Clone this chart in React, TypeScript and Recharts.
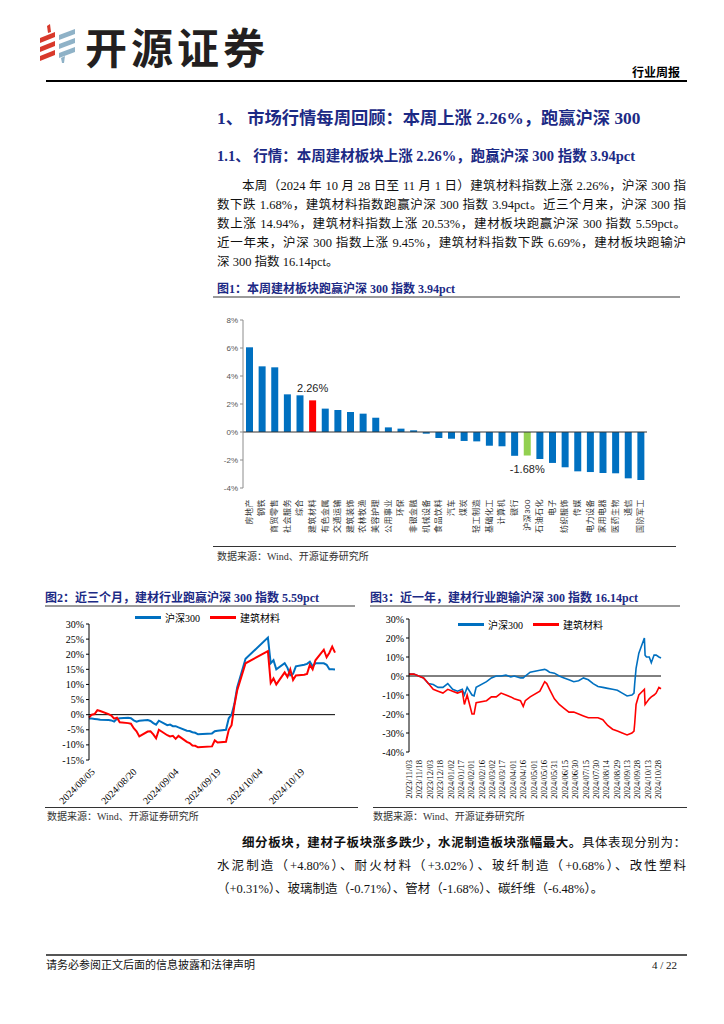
import React from "react";
import { BarChart, Bar, Cell, LineChart, Line, XAxis, YAxis, ReferenceLine, LabelList, Legend } from "recharts";

// 图1：申万一级行业本周涨跌幅
const industries = [
  "房地产", "钢铁", "商贸零售", "社会服务", "综合", "建筑材料", "有色金属", "交通运输",
  "建筑装饰", "农林牧渔", "美容护理", "公用事业", "环保", "非银金融", "机械设备", "食品饮料",
  "汽车", "煤炭", "轻工制造", "基础化工", "计算机", "银行", "沪深300", "石油石化",
  "电子", "纺织服饰", "传媒", "电力设备", "家用电器", "医药生物", "通信", "国防军工",
];
const weeklyChange = [
  6.05, 4.69, 4.62, 2.69, 2.62, 2.26, 1.67, 1.57,
  1.43, 1.31, 1.02, 0.33, 0.24, 0.12, -0.12, -0.43,
  -0.48, -0.64, -0.67, -0.98, -1.02, -1.7, -1.68, -1.93,
  -2.21, -2.52, -2.81, -2.86, -2.93, -2.95, -3.31, -3.43,
];
const barTicks = [-4, -2, 0, 2, 4, 6, 8];

// 图2：近三个月
const threeMonthDates = [
  "2024-08-05", "2024-08-06", "2024-08-07", "2024-08-08", "2024-08-09", "2024-08-12", "2024-08-13", "2024-08-14",
  "2024-08-15", "2024-08-16", "2024-08-19", "2024-08-20", "2024-08-21", "2024-08-22", "2024-08-23", "2024-08-26",
  "2024-08-27", "2024-08-28", "2024-08-29", "2024-08-30", "2024-09-02", "2024-09-03", "2024-09-04", "2024-09-05",
  "2024-09-06", "2024-09-09", "2024-09-10", "2024-09-11", "2024-09-12", "2024-09-13", "2024-09-18", "2024-09-19",
  "2024-09-20", "2024-09-23", "2024-09-24", "2024-09-25", "2024-09-26", "2024-09-27", "2024-09-30", "2024-10-08",
  "2024-10-09", "2024-10-10", "2024-10-11", "2024-10-14", "2024-10-15", "2024-10-16", "2024-10-17", "2024-10-18",
  "2024-10-21", "2024-10-22", "2024-10-23", "2024-10-24", "2024-10-25", "2024-10-28", "2024-10-29", "2024-10-30",
  "2024-10-31", "2024-11-01",
];
const threeMonthCsi300 = [
  -1.3, -1.3, -1.4, -1.5, -1.7, -1.8, -1.9, -2.3, -1.4, -1.2, -1.0, -1.2, -1.9, -2.3, -2.0, -1.8, -2.1, -2.8, -3.3, -2.0,
  -3.5, -3.3, -3.8, -3.8, -4.2, -5.3, -5.4, -5.8, -6.0, -6.5, -6.2, -5.5, -5.3, -5.0, -1.2, 0.0, 3.5, 9.0, 18.5,
  25.5, 17.0, 18.0, 15.0, 17.0, 15.5, 13.0, 13.5, 16.0, 16.5, 16.8, 17.5, 16.0, 17.0, 17.0, 16.5, 15.0, 15.0,
  14.94,
];
const threeMonthBuilding = [
  -1.0, 0.0, 0.2, 1.5, 1.2, 0.2, -0.3, -1.3, -1.0, -2.5, -2.8, -3.0, -4.5, -5.5, -7.2, -5.6, -5.5, -6.5, -7.8, -5.0,
  -6.8, -7.2, -7.0, -8.0, -7.0, -9.0, -9.4, -10.2, -10.3, -10.8, -10.5, -8.5, -9.2, -9.0, -5.0, -3.5, 3.0, 8.0, 17.0,
  21.0, 10.5, 12.0, 10.0, 14.0, 12.5, 15.0, 11.5, 13.0, 13.2, 13.5, 16.5, 15.0, 18.0, 21.5, 19.0, 20.5, 22.5,
  20.53,
];
const threeMonthTicks = [-15, -10, -5, 0, 5, 10, 15, 20, 25, 30];
const threeMonthDayTicks = [0, 15, 30, 45, 60, 75];

// 图3：近一年
const yearDates = [
  "2023-11-03", "2023-11-10", "2023-11-17", "2023-11-24", "2023-12-01", "2023-12-08", "2023-12-15", "2023-12-22",
  "2023-12-29", "2024-01-05", "2024-01-12", "2024-01-19", "2024-01-22", "2024-01-26", "2024-02-02", "2024-02-05",
  "2024-02-08", "2024-02-23", "2024-03-01", "2024-03-08", "2024-03-15", "2024-03-22", "2024-03-29", "2024-04-03",
  "2024-04-12", "2024-04-16", "2024-04-19", "2024-04-26", "2024-05-10", "2024-05-17", "2024-05-20", "2024-05-24",
  "2024-05-31", "2024-06-07", "2024-06-14", "2024-06-21", "2024-06-28", "2024-07-05", "2024-07-12", "2024-07-19",
  "2024-07-26", "2024-08-02", "2024-08-09", "2024-08-16", "2024-08-23", "2024-08-30", "2024-09-06", "2024-09-13",
  "2024-09-20", "2024-09-23", "2024-09-24", "2024-09-26", "2024-09-30", "2024-10-08", "2024-10-09", "2024-10-11",
  "2024-10-15", "2024-10-18", "2024-10-22", "2024-10-25", "2024-10-29", "2024-11-01",
];
const yearCsi300 = [
  1, 1, 0, -1, -4, -4.5, -6, -6, -4, -7, -8, -7, -10, -6, -10, -10.5,
  -6, -3, -1, 0, 0, 0.5, -0.5, 0, -1, -1, 0, 2, 3, 3.5, 3, 2,
  1.5, 0, -1, -2, -3, -2.5, -1, -2, -4, -5.5, -6, -6.5, -7, -7.5, -9, -10.5,
  -10, -9, -4, 4, 12, 20, 11, 10, 10, 7, 11, 11, 10, 9.45,
];
const yearBuilding = [
  1, 1, 0, -1, -4, -7, -8, -9, -7, -8, -9, -8, -15, -10, -20, -20,
  -14, -13, -11, -11, -9, -10, -11, -12, -13, -16, -13, -11, -8, -3, -4, -7,
  -12, -15, -17, -19, -19, -20, -21, -22, -22, -22, -23, -26, -28, -29, -30, -31,
  -30, -29, -25, -15, -10, -7, -15, -14, -12, -11, -10, -9, -6, -6.69,
];
const yearTicks = [-40, -30, -20, -10, 0, 10, 20, 30];
const yearDayTicks = Array.from({ length: 25 }, (_, i) => i * 15);

const seriesOrder = ["沪深300", "建筑材料"];

const DAY = 86400000;
const dayIndex = (d: string, base: string) => Math.round((Date.parse(d) - Date.parse(base)) / DAY);
const fmtDay = (base: string, n: number) => {
  const t = new Date(Date.parse(base) + n * DAY);
  return `${t.getUTCFullYear()}/${String(t.getUTCMonth() + 1).padStart(2, "0")}/${String(t.getUTCDate()).padStart(2, "0")}`;
};

const barData = industries.map((name, i) => ({ name, value: weeklyChange[i] }));
const threeMonthData = threeMonthDates.map((d, i) => ({
  day: dayIndex(d, threeMonthDates[0]),
  csi: threeMonthCsi300[i],
  build: threeMonthBuilding[i],
}));
const yearData = yearDates.map((d, i) => ({
  day: dayIndex(d, yearDates[0]),
  csi: yearCsi300[i],
  build: yearBuilding[i],
}));

const NAVY = "#1c2a85";
const SERIF = "'Liberation Serif', 'Noto Sans CJK SC', serif";
const SANS = "'Liberation Sans', 'Noto Sans CJK SC', sans-serif";

const barColor = (name: string) => (name === "建筑材料" ? "#ff0000" : name === "沪深300" ? "#92d050" : "#0070c0");

const BarValueLabel = (props: any) => {
  const { x, y, width, height, value, index } = props;
  const name = industries[index];
  if (name !== "建筑材料" && name !== "沪深300") return null;
  const top = Math.min(y, y + height);
  const bottom = Math.max(y, y + height);
  const cx = x + width / 2;
  return (
    <text x={cx} y={value >= 0 ? top - 8 : bottom + 17} textAnchor="middle" fontSize={11} fill="#222" fontFamily={SANS}>
      {value.toFixed(2)}%
    </text>
  );
};

const IndustryTick = ({ x, y, payload }: any) => (
  <text
    x={x}
    y={y + 3}
    transform={`rotate(-90, ${x}, ${y + 3})`}
    textAnchor="end"
    dominantBaseline="central"
    fontSize={8}
    letterSpacing={0.5}
    fill="#333"
    fontFamily={SANS}
  >
    {payload.value}
  </text>
);

const ThreeMonthTick = ({ x, y, payload }: any) => (
  <text
    x={x + 4}
    y={y + 2}
    transform={`rotate(-45, ${x + 4}, ${y + 2})`}
    textAnchor="end"
    dominantBaseline="central"
    fontSize={10}
    fill="#000"
    fontFamily={SERIF}
  >
    {fmtDay(threeMonthDates[0], payload.value)}
  </text>
);

const YearTick = ({ x, y, payload }: any) => (
  <text
    x={x}
    y={y}
    transform={`rotate(-90, ${x}, ${y})`}
    textAnchor="end"
    dominantBaseline="central"
    fontSize={8.5}
    fill="#000"
    fontFamily={SERIF}
  >
    {fmtDay(yearDates[0], payload.value)}
  </text>
);

const LineLegend = ({ payload }: any) => {
  const items = [...(payload || [])].sort((a: any, b: any) => seriesOrder.indexOf(a.value) - seriesOrder.indexOf(b.value));
  return (
    <div style={{ display: "flex", alignItems: "center", fontSize: 10, fontFamily: SERIF, color: "#000" }}>
      {items.map((p: any) => (
        <span key={p.value} style={{ display: "flex", alignItems: "center", marginRight: 10 }}>
          <span style={{ width: 26, height: 3, background: p.color, marginRight: 4, display: "inline-block" }} />
          {p.value}
        </span>
      ))}
    </div>
  );
};

const T = ({ x, y, size, children, style }: any) => (
  <div style={{ position: "absolute", left: x, top: y - size * 0.75, fontSize: size, lineHeight: `${size * 1.5}px`, whiteSpace: "nowrap", ...style }}>
    {children}
  </div>
);

const JLine = ({ x, y, w, indent, children, bold }: any) => (
  <div
    style={{
      position: "absolute",
      left: x,
      top: y - 9,
      width: w,
      paddingLeft: indent || 0,
      boxSizing: "border-box",
      fontSize: 12.5,
      lineHeight: "18px",
      height: 18,
      textAlign: "justify",
      textAlignLast: "justify",
      fontFamily: SERIF,
      color: "#111",
      fontWeight: bold ? 700 : 400,
    }}
  >
    {children}
  </div>
);

const HLine = ({ x1, x2, y, h, color }: any) => (
  <div style={{ position: "absolute", left: x1, top: y, width: x2 - x1, height: h, background: color }} />
);

function Logo() {
  const red = "#d8392b";
  const blue = "#8fb2c7";
  return (
    <svg width={40} height={40} style={{ position: "absolute", left: 38, top: 24 }}>
      <polygon points="9,2 12,0 13,8 10,9" fill={red} />
      <polygon points="2,14 17,8 17,13 2,19" fill={red} />
      <polygon points="2,23 17,17 17,22 2,28" fill={red} />
      <polygon points="2,32 17,26 17,31 2,37" fill={red} />
      <polygon points="21,11 37,5 37,10 21,16" fill={blue} />
      <polygon points="21,20 37,14 37,19 21,25" fill={blue} />
      <polygon points="21,29 37,23 37,28 21,34" fill={blue} />
      <polygon points="23,34 27,32 26,39 24,39" fill={blue} />
    </svg>
  );
}

export default function App() {
  return (
    <div style={{ position: "absolute", left: 0, top: 0, width: 724, height: 1024, background: "#fff", overflow: "hidden", fontFamily: SERIF }}>
      {/* header */}
      <Logo />
      <T x={85} y={45} size={42} style={{ fontFamily: "'Noto Sans CJK SC', sans-serif", fontWeight: 700, color: "#231f20", letterSpacing: 4 }}>
        开源证券
      </T>
      <T x={632} y={73} size={12} style={{ fontWeight: 700, color: "#000" }}>行业周报</T>
      <HLine x1={46} x2={687} y={80} h={1.5} color="#000" />

      {/* headings */}
      <T x={217} y={119} size={17.3} style={{ fontWeight: 700, color: NAVY }}>
        1、 市场行情每周回顾：本周上涨 2.26%，跑赢沪深 300
      </T>
      <T x={217} y={157} size={14.5} style={{ fontWeight: 700, color: NAVY }}>
        1.1、 行情：本周建材板块上涨 2.26%，跑赢沪深 300 指数 3.94pct
      </T>

      <JLine x={217} y={186} w={469} indent={25}>本周（2024 年 10 月 28 日至 11 月 1 日）建筑材料指数上涨 2.26%，沪深 300 指</JLine>
      <JLine x={217} y={205} w={469}>数下跌 1.68%，建筑材料指数跑赢沪深 300 指数 3.94pct。近三个月来，沪深 300 指</JLine>
      <JLine x={217} y={224} w={469}>数上涨 14.94%，建筑材料指数上涨 20.53%，建材板块跑赢沪深 300 指数 5.59pct。</JLine>
      <JLine x={217} y={243} w={469}>近一年来，沪深 300 指数上涨 9.45%，建筑材料指数下跌 6.69%，建材板块跑输沪</JLine>
      <T x={217} y={262} size={12.5} style={{ color: "#111" }}>深 300 指数 16.14pct。</T>

      {/* figure 1 */}
      <T x={217} y={289} size={12} style={{ fontWeight: 700, color: NAVY }}>图1：本周建材板块跑赢沪深 300 指数 3.94pct</T>
      <HLine x1={213} x2={680} y={296} h={1.5} color="#9a9a9a" />
      <div style={{ position: "absolute", left: 213, top: 305 }}>
        <BarChart width={470} height={240} data={barData} margin={{ top: 15, right: 36, bottom: 2, left: 0 }} barCategoryGap="45%">
          <XAxis dataKey="name" interval={0} axisLine={false} tickLine={false} height={55} tick={<IndustryTick />} />
          <YAxis
            domain={[-4, 8]}
            ticks={barTicks}
            interval={0}
            width={30}
            tickSize={3}
            stroke="#8c8c8c"
            tick={{ fontSize: 8, fill: "#555", fontFamily: SANS }}
            tickFormatter={(v: number) => `${v}%`}
          />
          <ReferenceLine y={0} stroke="#333" />
          <Bar dataKey="value" isAnimationActive={false} barSize={7}>
            {barData.map((d) => (
              <Cell key={d.name} fill={barColor(d.name)} />
            ))}
            <LabelList dataKey="value" content={<BarValueLabel />} />
          </Bar>
        </BarChart>
      </div>
      <HLine x1={213} x2={676} y={546} h={1} color="#333" />
      <T x={217} y={556} size={10} style={{ color: "#333" }}>数据来源：Wind、开源证券研究所</T>

      {/* figure 2 */}
      <T x={45} y={598} size={12} style={{ fontWeight: 700, color: NAVY }}>图2：近三个月，建材行业跑赢沪深 300 指数 5.59pct</T>
      <HLine x1={45} x2={355} y={605} h={1.5} color="#9a9a9a" />
      <div style={{ position: "absolute", left: 45, top: 608 }}>
        <LineChart width={315} height={198} data={threeMonthData} margin={{ top: 16, right: 25, bottom: 2, left: 0 }}>
          <XAxis
            dataKey="day"
            type="number"
            domain={[0, 88]}
            ticks={threeMonthDayTicks}
            interval={0}
            axisLine={false}
            tickLine={false}
            height={44}
            tick={<ThreeMonthTick />}
          />
          <YAxis
            domain={[-15, 30]}
            ticks={threeMonthTicks}
            interval={0}
            width={44}
            tickSize={3}
            stroke="#000"
            tick={{ fontSize: 10, fill: "#000", fontFamily: SERIF }}
            tickFormatter={(v: number) => `${v}%`}
          />
          <ReferenceLine y={0} stroke="#000" />
          <Legend
            verticalAlign="middle"
            align="center"
            layout="horizontal"
            wrapperStyle={{ top: 2, left: 90, width: 220 }}
            content={<LineLegend />}
          />
          <Line dataKey="csi" name="沪深300" stroke="#0070c0" strokeWidth={2} dot={false} isAnimationActive={false} />
          <Line dataKey="build" name="建筑材料" stroke="#ff0000" strokeWidth={2} dot={false} isAnimationActive={false} />
        </LineChart>
      </div>
      <HLine x1={45} x2={358} y={807} h={1} color="#333" />
      <T x={47} y={816} size={10} style={{ color: "#333" }}>数据来源：Wind、开源证券研究所</T>

      {/* figure 3 */}
      <T x={370} y={598} size={12} style={{ fontWeight: 700, color: NAVY }}>图3：近一年，建材行业跑输沪深 300 指数 16.14pct</T>
      <HLine x1={370} x2={680} y={605} h={1.5} color="#9a9a9a" />
      <div style={{ position: "absolute", left: 370, top: 608 }}>
        <LineChart width={315} height={198} data={yearData} margin={{ top: 11, right: 24, bottom: 2, left: 0 }}>
          <XAxis
            dataKey="day"
            type="number"
            domain={[0, 364]}
            ticks={yearDayTicks}
            interval={0}
            axisLine={false}
            tickLine={false}
            height={52}
            tick={<YearTick />}
          />
          <YAxis
            domain={[-40, 30]}
            ticks={yearTicks}
            interval={0}
            width={39}
            tickSize={3}
            stroke="#000"
            tick={{ fontSize: 10, fill: "#000", fontFamily: SERIF }}
            tickFormatter={(v: number) => `${v}%`}
          />
          <ReferenceLine y={0} stroke="#000" />
          <Legend
            verticalAlign="middle"
            align="center"
            layout="horizontal"
            wrapperStyle={{ top: 9, left: 88, width: 220 }}
            content={<LineLegend />}
          />
          <Line dataKey="csi" name="沪深300" stroke="#0070c0" strokeWidth={1.6} dot={false} isAnimationActive={false} />
          <Line dataKey="build" name="建筑材料" stroke="#ff0000" strokeWidth={1.6} dot={false} isAnimationActive={false} />
        </LineChart>
      </div>
      <HLine x1={373} x2={687} y={807} h={1} color="#333" />
      <T x={373} y={816} size={10} style={{ color: "#333" }}>数据来源：Wind、开源证券研究所</T>

      {/* bottom paragraph */}
      <JLine x={217} y={843} w={469} indent={25}>
        <b>细分板块，建材子板块涨多跌少，水泥制造板块涨幅最大。</b>具体表现分别为：
      </JLine>
      <JLine x={217} y={866} w={469}>水泥制造（+4.80%）、耐火材料（+3.02%）、玻纤制造（+0.68%）、改性塑料</JLine>
      <T x={217} y={889} size={12.5} style={{ color: "#111" }}>（+0.31%）、玻璃制造（-0.71%）、管材（-1.68%）、碳纤维（-6.48%）。</T>

      {/* footer */}
      <HLine x1={46} x2={687} y={954} h={2} color="#555" />
      <T x={46} y={965} size={11} style={{ color: "#111" }}>请务必参阅正文后面的信息披露和法律声明</T>
      <T x={652} y={965} size={11} style={{ color: "#111" }}>4 / 22</T>
    </div>
  );
}
